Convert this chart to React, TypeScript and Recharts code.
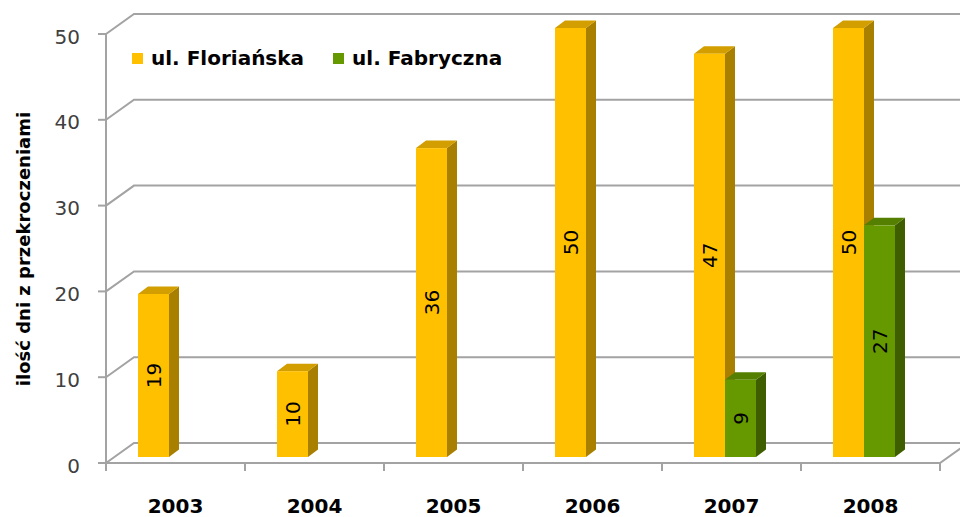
import React from 'react';
import { BarChart, Bar, XAxis, YAxis, CartesianGrid, Legend } from 'recharts';

const years = ['2003', '2004', '2005', '2006', '2007', '2008'];
const florianska: (number | null)[] = [19, 10, 36, 50, 47, 50];
const fabryczna: (number | null)[] = [null, null, null, null, 9, 27];
const yTicks = [0, 10, 20, 30, 40, 50];
const seriesNames = ['ul. Floriańska', 'ul. Fabryczna'];
const yTitle = 'ilość dni z przekroczeniami';

const data = years.map((year, i) => ({ year, florianska: florianska[i], fabryczna: fabryczna[i] }));

const W = 960;
const H = 517;
const PLOT_TOP = 34;
const X_AXIS_H = 54;
const PLOT_BOTTOM = H - X_AXIS_H;
const DX = 10;
const DY = 7.5;
const SHIFT_X = -7;
const SHIFT_Y = -6;
const WALL_X = 28;
const WALL_Y = 20;
const FONT = "'DejaVu Sans', Verdana, sans-serif";
const GRID = '#A3A3A3';

const COLORS = {
  florianska: { front: '#FFC000', top: '#D29E00', side: '#A97F00' },
  fabryczna: { front: '#669900', top: '#557F00', side: '#3E5E00' },
};

function makeBar(key: 'florianska' | 'fabryczna') {
  const c = COLORS[key];
  return (props: any) => {
    const { x, y, width, height, payload } = props;
    const v = payload ? payload[key] : null;
    if (v == null || !(height > 0)) return <g />;
    const x0 = x + SHIFT_X;
    const y0 = y + SHIFT_Y;
    const x1 = x0 + width;
    const y1 = y0 + height;
    return (
      <g>
        <polygon points={`${x1},${y0} ${x1 + DX},${y0 - DY} ${x1 + DX},${y1 - DY} ${x1},${y1}`} fill={c.side} />
        <polygon points={`${x0},${y0} ${x0 + DX},${y0 - DY} ${x1 + DX},${y0 - DY} ${x1},${y0}`} fill={c.top} />
        <rect x={x0} y={y0} width={width} height={height} fill={c.front} />
        <text
          transform={`translate(${x0 + width / 2},${y0 + height / 2}) rotate(-90)`}
          textAnchor="middle"
          dy="0.36em"
          fontSize={20}
          fontFamily={FONT}
          fill="#000"
        >
          {v}
        </text>
      </g>
    );
  };
}

const gridLine = (props: any) => {
  const { x1, y1, x2 } = props;
  const xb = x1 + WALL_X;
  const yb = y1 - WALL_Y;
  const isFloor = Math.abs(y1 - PLOT_BOTTOM) < 1.5;
  const n = years.length;
  const step = (x2 - x1) / n;
  return (
    <g key={`g-${y1}`}>
      <polyline points={`${x1},${y1} ${xb},${yb} ${x2 + WALL_X + 10},${yb}`} fill="none" stroke={GRID} strokeWidth={2} />
      {isFloor && (
        <g>
          <polyline points={`${x1},${y1} ${x2},${y1} ${x2 + WALL_X},${yb}`} fill="none" stroke={GRID} strokeWidth={2} />
          {years.map((_, i) => (
            <line key={i} x1={x1 + (i + 1) * step} y1={y1} x2={x1 + (i + 1) * step} y2={y1 + 8} stroke={GRID} strokeWidth={2} />
          ))}
          <line x1={x1} y1={PLOT_TOP} x2={x1} y2={y1 + 8} stroke={GRID} strokeWidth={2} />
        </g>
      )}
    </g>
  );
};

const YTick = (props: any) => {
  const { x, y, payload } = props;
  return (
    <text x={x} y={y} dy="0.48em" textAnchor="end" fontSize={20} fontFamily={FONT} fill="#404040">
      {payload.value}
    </text>
  );
};

const XTick = (props: any) => {
  const { x, payload } = props;
  return (
    <text x={x} y={PLOT_BOTTOM + 50} textAnchor="middle" fontSize={20} fontWeight="bold" fontFamily={FONT} fill="#000">
      {payload.value}
    </text>
  );
};

const YTitle = () => (
  <text
    transform="translate(24,249) rotate(-90)"
    textAnchor="middle"
    dy="0.36em"
    fontSize={18}
    fontWeight="bold"
    fontFamily={FONT}
    fill="#000"
  >
    {yTitle}
  </text>
);

const LegendContent = () => (
  <div style={{ display: 'flex', alignItems: 'center', fontFamily: FONT, fontSize: 20, fontWeight: 'bold', lineHeight: '24px', color: '#000', whiteSpace: 'nowrap' }}>
    {seriesNames.map((name, i) => (
      <div key={name} style={{ display: 'flex', alignItems: 'center', marginRight: i === 0 ? 29 : 0 }}>
        <span style={{ display: 'inline-block', width: 11, height: 11, background: i === 0 ? COLORS.florianska.front : COLORS.fabryczna.front, marginRight: 8 }} />
        <span>{name}</span>
      </div>
    ))}
  </div>
);

export default function App() {
  return (
    <div style={{ position: 'absolute', left: 0, top: 0, width: W, height: H, background: '#fff' }}>
      <BarChart
        width={W}
        height={H}
        data={data}
        margin={{ top: PLOT_TOP, right: 20, bottom: 0, left: 46 }}
        barGap={0}
        barSize={31}
      >
        <CartesianGrid horizontal={gridLine} vertical={false} stroke={GRID} />
        <XAxis dataKey="year" height={X_AXIS_H} axisLine={false} tickLine={false} tick={<XTick />} interval={0} />
        <YAxis
          domain={[0, 50]}
          ticks={yTicks}
          axisLine={false}
          tickSize={8}
          tickMargin={18}
          tickLine={{ stroke: GRID, strokeWidth: 2 }}
          tick={<YTick />}
          label={<YTitle />}
        />
        <Legend
          layout="vertical"
          align="center"
          verticalAlign="middle"
          content={<LegendContent />}
          wrapperStyle={{ top: 46, left: 132, width: 'auto', height: 'auto' }}
        />
        <Bar dataKey="florianska" name={seriesNames[0]} isAnimationActive={false} shape={makeBar('florianska')} />
        <Bar dataKey="fabryczna" name={seriesNames[1]} isAnimationActive={false} shape={makeBar('fabryczna')} />
      </BarChart>
    </div>
  );
}
